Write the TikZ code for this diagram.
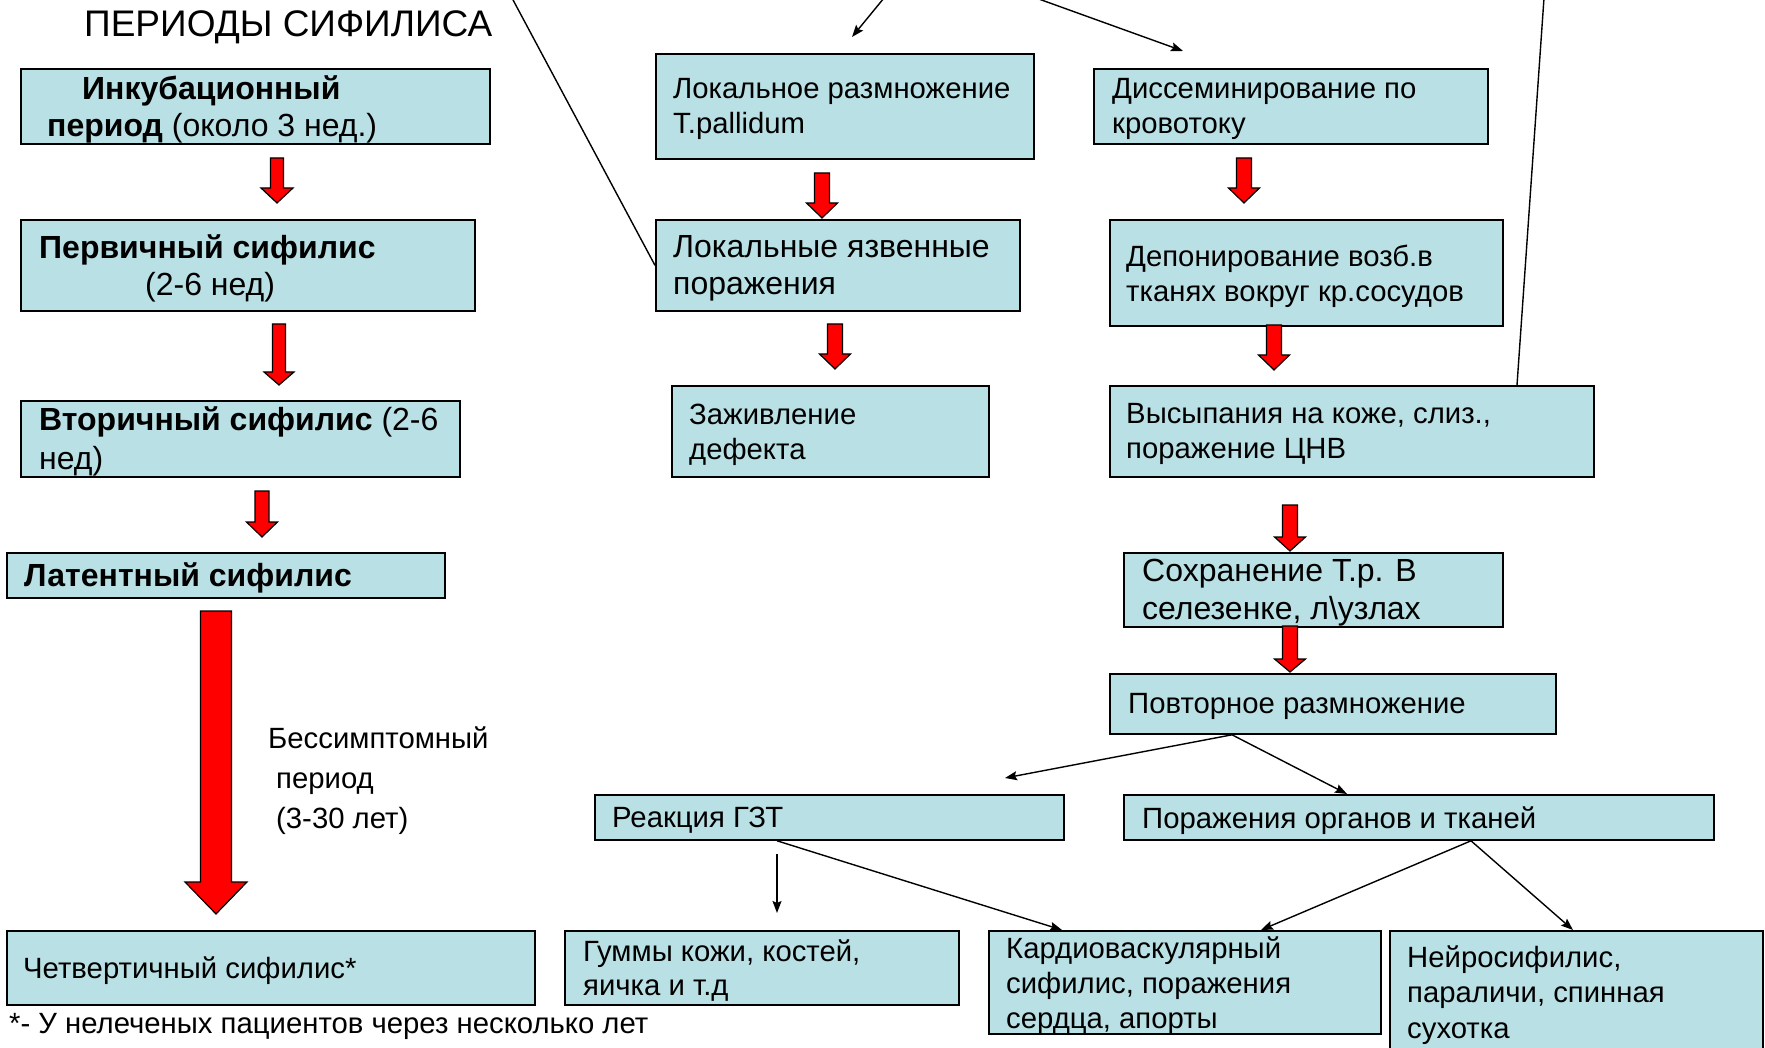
\documentclass[tikz,border=0pt]{standalone}
\usepackage{fontspec}
\setmainfont{Liberation Sans}
\usetikzlibrary{arrows.meta}
\definecolor{boxfill}{RGB}{185,224,228}
\tikzset{
  box/.style={draw=black, line width=1.8pt, fill=boxfill, rectangle, inner sep=0pt, anchor=north west},
  txt/.style={inner sep=0pt, align=left, font=\fontsize{29.3}{35}\selectfont, anchor=west, yshift=-3pt},
  boldbox/.style={font=\fontsize{32}{37}\selectfont},
  redarrow/.style={fill=red, draw=black, line width=1.2pt, line join=miter},
  conn/.style={draw=black, line width=1.4pt},
  arr/.style={conn, -{Stealth[length=12pt,width=9pt,inset=2pt]}},
}
% optional text options, name, x1, y1, x2, y2, left padding, text
\newcommand\bx[8][]{%
  \node[box, minimum width={(#5-#3)*1pt}, minimum height={(#6-#4)*1pt}] (#2) at (#3,#4) {};%
  \node[txt,#1] (#2-t) at ([xshift=#7pt]#2.west) {#8};}
% centre x, top y, tip y, shaft width, head width, head length
\newcommand\redarr[6]{%
  \filldraw[redarrow] ({#1-#4/2},#2) -- ({#1+#4/2},#2) -- ({#1+#4/2},{#3-#6}) -- ({#1+#5/2},{#3-#6})
    -- (#1,#3) -- ({#1-#5/2},{#3-#6}) -- ({#1-#4/2},{#3-#6}) -- cycle;}
\begin{document}
\begin{tikzpicture}[x=1pt,y=-1pt]
\useasboundingbox (0,0) rectangle (1765,1048);
\clip (0,0) rectangle (1765,1048);

\node[anchor=base west, inner sep=0pt, font=\fontsize{37}{40}\selectfont] (title) at (84,37) {ПЕРИОДЫ СИФИЛИСА};

% left column
\bx[boldbox]{inc}{20}{68}{489}{143}{27}{\hspace*{35pt}\textbf{Инкубационный}\\\textbf{период} (около 3 нед.)}
\bx[boldbox]{perv}{20}{219}{474}{310}{19}{\textbf{Первичный сифилис}\\\hspace*{106pt}(2-6 нед)}
\bx[font=\fontsize{32}{39}\selectfont]{vtor}{20}{400}{459}{476}{19}{\textbf{Вторичный сифилис} (2-6\\нед)}
\bx[boldbox]{lat}{6}{552}{444}{597}{18}{\textbf{Латентный сифилис}}
\bx{chetv}{6}{930}{534}{1004}{17}{Четвертичный сифилис*}

% middle column
\bx{lokr}{655}{53}{1033}{158}{18}{Локальное размножение\\T.pallidum}
\bx[font=\fontsize{32}{37}\selectfont]{lokya}{655}{219}{1019}{310}{18}{Локальные язвенные\\поражения}
\bx{zazh}{671}{385}{988}{476}{18}{Заживление\\дефекта}

% right column
\bx{diss}{1093}{68}{1487}{143}{19}{Диссеминирование по\\кровотоку}
\bx{depo}{1109}{219}{1502}{325}{17}{Депонирование возб.в\\тканях вокруг кр.сосудов}
\bx{vysy}{1109}{385}{1593}{476}{17}{Высыпания на коже, слиз.,\\поражение ЦНВ}
\bx[font=\fontsize{32}{38}\selectfont]{sohr}{1123}{552}{1502}{626}{19}{Сохранение Т.р. В\\селезенке, л\textbackslash узлах}
\bx{povt}{1109}{673}{1555}{733}{19}{Повторное размножение}
\bx{gzt}{594}{794}{1063}{839}{18}{Реакция ГЗТ}
\bx{porazh}{1123}{794}{1713}{839}{19}{Поражения органов и тканей}
\bx[font=\fontsize{29.3}{34}\selectfont]{gummy}{564}{930}{958}{1004}{19}{Гуммы кожи, костей,\\яичка и т.д}
\bx[font=\fontsize{29.3}{35}\selectfont]{kardio}{988}{930}{1380}{1033}{18}{Кардиоваскулярный\\сифилис, поражения\\сердца, апорты}
\bx[font=\fontsize{29.3}{35.5}\selectfont]{neuro}{1389}{930}{1762}{1052}{18}{Нейросифилис,\\параличи, спинная\\сухотка}

% free text
\node[inner sep=0pt, align=left, anchor=north west, font=\fontsize{29.3}{40}\selectfont] (asym) at (268,727)
  {Бессимптомный\\\hspace*{8pt}период\\\hspace*{8pt}(3-30 лет)};
\node[inner sep=0pt, anchor=base west, font=\fontsize{29.3}{32}\selectfont] (foot) at (9,1033)
  {*- У нелеченых пациентов через несколько лет};

% red arrows
\redarr{277}{158}{203}{13}{32}{15}
\redarr{279}{324}{385}{13}{30}{13}
\redarr{262}{491}{537}{14}{31}{15}
\redarr{216}{611}{914}{31}{62}{32}
\redarr{822}{173}{218}{15}{31}{15}
\redarr{835}{324}{369}{15}{31}{15}
\redarr{1244}{158}{203}{15}{31}{15}
\redarr{1274}{325}{370}{15}{31}{15}
\redarr{1290}{505}{551}{15}{31}{14}
\redarr{1290}{626}{672}{15}{31}{13}

% thin connectors
\coordinate (t1) at (884,-2);
\coordinate (t1e) at (852,37);
\coordinate (t2) at (1036,-2);
\coordinate (t2e) at (1183,51);
\coordinate (t3) at (512,-2);
\coordinate (t4) at (1544,-2);
\coordinate (gztin) at (1005,778);
\coordinate (g1) at (777,854);
\coordinate (g2) at (777,913);
\draw[arr] (t1) -- (t1e);
\draw[arr] (t2) -- (t2e);
\draw[conn] (t3) -- (lokya.west);
\draw[conn] (t4) -- ([xshift=408pt]vysy.north west);
\draw[arr] ([xshift=123pt]povt.south west) -- (gztin);
\draw[arr] ([xshift=123pt]povt.south west) -- ([xshift=224pt]porazh.north west);
\draw[arr] ([xshift=183pt]gzt.south west) -- ([xshift=74pt]kardio.north west);
\draw[arr] (g1) -- (g2);
\draw[arr] ([xshift=348pt]porazh.south west) -- ([xshift=273pt]kardio.north west);
\draw[arr] ([xshift=348pt]porazh.south west) -- ([xshift=184pt]neuro.north west);
\end{tikzpicture}
\end{document}
